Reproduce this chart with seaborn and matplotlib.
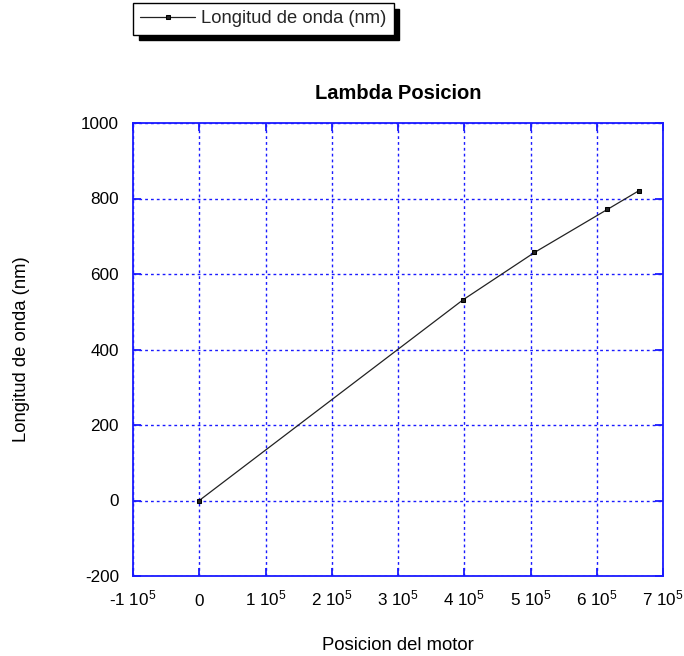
import matplotlib
matplotlib.use("Agg")
import matplotlib.pyplot as plt
import seaborn as sns
import pandas as pd

# Data
posicion = [0, 398500, 506000, 616000, 664000]
longitud = [0, 532, 657, 771, 821]
x_ticks = [-100000, 0, 100000, 200000, 300000, 400000, 500000, 600000, 700000]
x_tick_labels = ["-1 10$^{5}$", "0", "1 10$^{5}$", "2 10$^{5}$", "3 10$^{5}$",
                 "4 10$^{5}$", "5 10$^{5}$", "6 10$^{5}$", "7 10$^{5}$"]
y_ticks = [-200, 0, 200, 400, 600, 800, 1000]
series_name = "Longitud de onda (nm)"

sns.set_theme(style="white")
plt.rcParams['font.family'] = ['Liberation Sans', 'DejaVu Sans']
plt.rcParams['axes.unicode_minus'] = False
plt.rcParams['mathtext.fontset'] = 'custom'
plt.rcParams['mathtext.rm'] = 'Liberation Sans'
plt.rcParams['mathtext.it'] = 'Liberation Sans'
plt.rcParams['mathtext.bf'] = 'Liberation Sans:bold'

df = pd.DataFrame({"x": posicion, "y": longitud, "serie": series_name})

fig = plt.figure(figsize=(6.84, 6.56), dpi=100)
ax = fig.add_axes([133/684, 1 - 576/656, 530/684, 453/656])

blue = "#1a1aff"
sns.lineplot(data=df, x="x", y="y", hue="serie", palette=["#222222"], marker="s",
             markersize=3.5, markeredgecolor="black", linewidth=0.9, ax=ax,
             legend=True, zorder=5)

ax.set_xlim(-100000, 700000)
ax.set_ylim(-200, 1000)
ax.set_xticks(x_ticks)
ax.set_xticklabels(x_tick_labels)
ax.set_yticks(y_ticks)
ax.grid(True, color=blue, linestyle=(0, (2, 2.2)), linewidth=1.0)
for s in ax.spines.values():
    s.set_color(blue)
    s.set_linewidth(1.3)
ax.tick_params(axis="both", which="both", direction="in", length=6, width=1.3,
               color=blue, top=True, right=True, bottom=True, left=True,
               labelsize=12.3, labelcolor="black")
ax.tick_params(axis="y", pad=10)
ax.tick_params(axis="x", pad=21.5)
for lbl in ax.get_xticklabels():
    lbl.set_verticalalignment("baseline")

ax.set_title("Lambda Posicion", fontsize=14.5, fontweight="bold", pad=17,
             color="black")
ax.set_xlabel("Posicion del motor", fontsize=13.3, labelpad=20.5, color="black")
ax.set_ylabel("Longitud de onda (nm)", fontsize=13.3, labelpad=37, color="black")

handles, labels = ax.get_legend_handles_labels()
ax.get_legend().remove()
leg = fig.legend(handles, labels, loc="upper left",
                 bbox_to_anchor=(133/684, 1 - 3/656), fontsize=13.2,
                 frameon=True, fancybox=False, edgecolor="black",
                 shadow={"color": "black", "alpha": 1.0, "ox": 4, "oy": -4},
                 handlelength=3.0, borderpad=0.4, handletextpad=0.3,
                 borderaxespad=0)
leg.get_frame().set_linewidth(1.0)

fig.savefig("out.png", dpi=100)
